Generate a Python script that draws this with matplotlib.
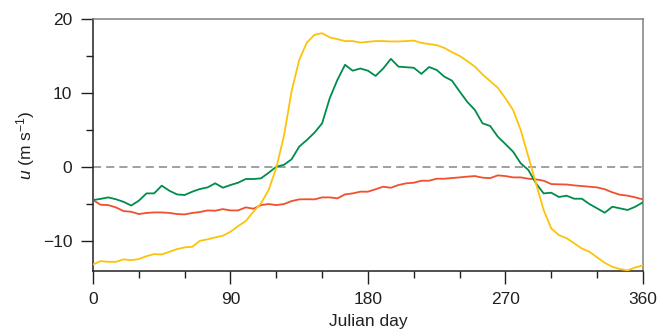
import numpy as np
import matplotlib
matplotlib.use("Agg")
import matplotlib.pyplot as plt
from matplotlib.ticker import MultipleLocator

# ── data (5-day steps) ───────────────────────────────────────────────────────
days = np.arange(0, 361, 5)

green = [-4.46, -4.3, -4.1, -4.35, -4.7, -5.2, -4.55, -3.56, -3.56, -2.52,
         -3.2, -3.7, -3.78, -3.33, -2.97, -2.75, -2.2, -2.79, -2.43, -2.12,
         -1.62, -1.62, -1.53, -0.77, 0.04, 0.3, 1.04, 2.75, 3.65, 4.64,
         5.9, 9.3, 11.76, 13.8, 13.0, 13.3, 13.0, 12.3, 13.3, 14.6,
         13.55, 13.47, 13.4, 12.57, 13.5, 13.1, 12.2, 11.66, 10.2, 8.8,
         7.7, 5.9, 5.54, 4.1, 3.1, 2.07, 0.5, -0.4, -2.2, -3.56,
         -3.47, -4.05, -3.87, -4.28, -4.28, -5.0, -5.58, -6.17, -5.36, -5.58,
         -5.8, -5.36, -4.77]

red = [-4.46, -5.1, -5.14, -5.45, -5.95, -6.04, -6.35, -6.2, -6.13, -6.13,
       -6.2, -6.35, -6.4, -6.2, -6.08, -5.86, -5.9, -5.68, -5.86, -5.86,
       -5.45, -5.63, -5.14, -5.0, -5.14, -5.0, -4.6, -4.37, -4.35, -4.37,
       -4.1, -4.1, -4.23, -3.7, -3.56, -3.33, -3.33, -3.0, -2.66, -2.8,
       -2.43, -2.2, -2.12, -1.85, -1.85, -1.58, -1.58, -1.49, -1.4, -1.3,
       -1.22, -1.44, -1.5, -1.13, -1.22, -1.4, -1.4, -1.58, -1.67, -1.85,
       -2.3, -2.34, -2.36, -2.48, -2.57, -2.66, -2.75, -3.0, -3.42, -3.74,
       -3.87, -4.1, -4.37]

yellow = [-13.15, -12.7, -12.8, -12.8, -12.47, -12.57, -12.43, -12.03, -11.76, -11.8,
          -11.45, -11.08, -10.85, -10.77, -9.96, -9.77, -9.5, -9.28, -8.74, -7.97,
          -7.3, -6.04, -4.9, -3.1, -0.1, 4.2, 10.2, 14.46, 16.8, 17.84,
          18.07, 17.5, 17.26, 17.0, 17.0, 16.8, 16.9, 17.0, 17.0, 16.95,
          16.95, 17.0, 17.07, 16.76, 16.6, 16.45, 16.08, 15.5, 15.0, 14.3,
          13.55, 12.5, 11.6, 10.7, 9.28, 7.7, 5.0, 1.4, -2.2, -5.8,
          -8.3, -9.2, -9.6, -10.3, -11.0, -11.45, -12.2, -12.93, -13.47, -13.78,
          -13.96, -13.55, -13.29]

x_ticks = [0, 90, 180, 270, 360]
y_ticks = [-10, 0, 10, 20]

# ── style ────────────────────────────────────────────────────────────────────
FONT = ["Liberation Sans", "DejaVu Sans"]
plt.rcParams["font.family"] = FONT
plt.rcParams["mathtext.fontset"] = "custom"
plt.rcParams["mathtext.rm"] = "Liberation Sans"
plt.rcParams["mathtext.it"] = "Liberation Sans:italic"

C_YEL, C_GRN, C_RED = "#fcc30b", "#008c4a", "#f0502d"
DARK, GREY = "#231f20", "#808080"

fig = plt.figure(figsize=(6.69, 3.31), dpi=100)
ax = fig.add_axes([0.139, 0.181, 0.822, 0.762])

ax.axhline(0, color="#999999", lw=1.3, dashes=(4.5, 2.8), zorder=1)
ax.plot(days, red, color=C_RED, lw=1.3, zorder=3)
ax.plot(days, green, color=C_GRN, lw=1.3, zorder=4)
ax.plot(days, yellow, color=C_YEL, lw=1.3, zorder=5)

ax.set_xlim(0, 360)
ax.set_ylim(-14.05, 20)
ax.set_xticks(x_ticks)
ax.set_yticks(y_ticks)
ax.set_yticklabels([str(v).replace("-", "\u2212") for v in y_ticks])
ax.xaxis.set_minor_locator(MultipleLocator(30))
ax.yaxis.set_minor_locator(MultipleLocator(5))
ax.tick_params(which="major", length=9, width=1.0, color=DARK,
               labelsize=12.5, labelcolor=DARK)
ax.tick_params(axis="x", which="major", pad=6)
ax.tick_params(axis="y", which="major", pad=6)
ax.tick_params(which="minor", length=5, width=1.0, color=DARK)

for s in ("left", "bottom"):
    ax.spines[s].set_color(DARK)
    ax.spines[s].set_linewidth(1.1)
for s in ("top", "right"):
    ax.spines[s].set_color(GREY)
    ax.spines[s].set_linewidth(1.1)

ax.set_xlabel("Julian day", fontsize=12.5, color=DARK, labelpad=5)
ax.set_ylabel(r"$u$ (m s$^{-1}$)", fontsize=12.5, color=DARK, labelpad=4)

fig.savefig("out.png", dpi=100)
